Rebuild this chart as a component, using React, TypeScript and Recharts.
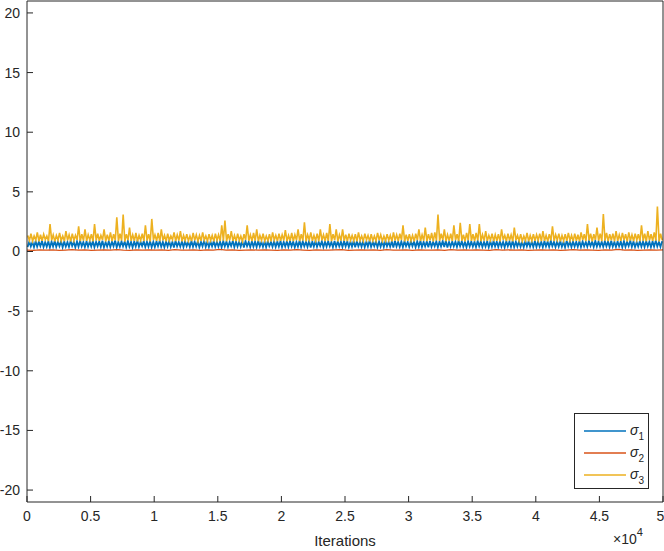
import { LineChart, Line, XAxis, YAxis, Label } from "recharts"

// binned envelope of each trace (250 iterations per bin)
const sigma3High = [
  1.35, 1.5, 1.3, 1.6, 1.4, 1.45, 1.3, 2.3, 1.4, 1.35, 1.55, 1.3, 1.7, 1.4, 1.5, 1.35, 2.1, 1.45, 1.85, 1.4,
  1.45, 2.3, 1.5, 1.35, 1.85, 1.4, 1.6, 1.45, 2.87, 1.5, 3.1, 1.45, 2.0, 1.4, 1.55, 1.35, 1.5, 2.2, 1.45, 2.73,
  1.4, 1.55, 1.85, 1.35, 1.5, 1.3, 1.6, 1.4, 1.7, 1.35, 1.45, 1.3, 1.55, 1.4, 1.35, 1.6, 1.3, 1.45, 1.35, 1.5,
  1.4, 2.2, 2.6, 1.45, 1.7, 1.35, 1.5, 1.3, 1.45, 2.2, 1.4, 1.55, 1.85, 1.35, 1.5, 1.3, 1.45, 1.6, 1.35, 1.5,
  1.4, 1.8, 1.35, 1.55, 1.4, 1.85, 1.45, 2.45, 1.4, 1.6, 1.35, 1.5, 1.85, 1.4, 1.55, 2.3, 1.45, 1.85, 1.4, 1.85,
  1.4, 1.5, 1.35, 1.45, 1.6, 1.3, 1.5, 1.35, 1.45, 1.3, 1.55, 1.4, 1.3, 1.45, 1.35, 1.6, 1.4, 1.5, 2.2, 1.4,
  1.45, 1.35, 1.5, 1.85, 1.4, 2.0, 1.45, 1.55, 1.6, 3.1, 1.5, 1.85, 1.4, 1.5, 2.2, 1.45, 2.4, 1.4, 1.55, 2.3,
  1.45, 1.55, 2.3, 1.4, 1.7, 1.35, 1.5, 1.4, 1.45, 1.85, 1.35, 1.5, 1.4, 2.0, 1.35, 1.45, 1.3, 1.55, 1.35, 1.45,
  1.4, 1.5, 1.7, 1.35, 1.45, 2.1, 1.4, 1.5, 1.35, 1.45, 1.55, 1.35, 1.5, 1.4, 1.6, 1.45, 2.3, 1.5, 1.45, 2.0,
  1.5, 3.15, 1.55, 1.45, 1.5, 1.7, 1.4, 1.55, 1.45, 1.6, 1.4, 1.5, 1.45, 2.2, 1.5, 1.7, 1.45, 1.6, 3.77, 1.5,
]
const sigma3Low = [
  0.92, 0.88, 0.95, 0.86, 0.9, 1.0, 0.87, 0.93, 0.85, 0.96, 0.9, 0.88, 0.94, 0.86, 0.91, 0.98, 0.87, 0.92, 0.89, 0.95,
  0.86, 0.93, 0.9, 0.97, 0.85, 0.91, 0.88, 0.95, 0.87, 0.92, 0.84, 0.96, 0.89, 0.9, 0.86, 0.94, 0.88, 0.92, 0.85, 0.97,
  0.9, 0.87, 0.94, 0.86, 0.92, 0.99, 0.88, 0.91, 0.85, 0.95, 0.89, 0.87, 0.93, 0.86, 0.9, 0.96, 0.88, 0.92, 0.85, 0.94,
  0.88, 0.91, 0.86, 0.95, 0.89, 0.87, 0.93, 0.85, 0.97, 0.9, 0.88, 0.92, 0.86, 0.94, 0.89, 0.91, 0.85, 0.96, 0.88, 0.9,
  0.93, 0.86, 0.9, 0.88, 0.95, 0.87, 0.92, 0.85, 0.98, 0.89, 0.91, 0.86, 0.94, 0.88, 0.9, 0.87, 0.96, 0.85, 0.92, 0.89,
  0.87, 0.94, 0.9, 0.86, 0.92, 0.88, 0.97, 0.85, 0.91, 0.89, 0.95, 0.87, 0.9, 0.93, 0.86, 0.92, 0.88, 0.96, 0.85, 0.9,
  0.91, 0.86, 0.95, 0.88, 0.9, 0.87, 0.93, 0.85, 0.92, 0.89, 0.97, 0.86, 0.91, 0.88, 0.94, 0.87, 0.9, 0.85, 0.96, 0.89,
  0.88, 0.93, 0.86, 0.91, 0.89, 0.95, 0.87, 0.9, 0.85, 0.98, 0.88, 0.92, 0.86, 0.94, 0.9, 0.87, 0.93, 0.85, 0.91, 0.89,
  0.94, 0.87, 0.9, 0.86, 0.92, 0.88, 0.96, 0.85, 0.91, 0.89, 0.93, 0.87, 0.9, 0.86, 0.95, 0.88, 0.92, 0.85, 0.97, 0.9,
  0.87, 0.91, 0.88, 0.94, 0.86, 0.9, 0.89, 0.95, 0.85, 0.92, 0.88, 0.96, 0.87, 0.9, 0.86, 0.93, 0.89, 0.91, 0.85, 0.94,
]
const sigma1High = [
  0.84, 0.8, 0.88, 0.82, 0.9, 0.79, 0.86, 0.83, 0.91, 0.81, 0.87, 0.84, 0.8, 0.89, 0.82, 0.85, 0.92, 0.8, 0.86, 0.83,
  0.88, 0.81, 0.85, 0.9, 0.79, 0.87, 0.83, 0.92, 0.8, 0.86, 0.84, 0.89, 0.81, 0.85, 0.91, 0.8, 0.87, 0.83, 0.88, 0.82,
  0.86, 0.9, 0.8, 0.84, 0.88, 0.82, 0.91, 0.79, 0.85, 0.87, 0.81, 0.89, 0.83, 0.86, 0.8, 0.92, 0.84, 0.82, 0.87, 0.81,
  0.83, 0.88, 0.85, 0.8, 0.9, 0.84, 0.81, 0.87, 0.89, 0.8, 0.86, 0.83, 0.91, 0.82, 0.85, 0.88, 0.79, 0.86, 0.84, 0.9,
  0.81, 0.86, 0.89, 0.83, 0.8, 0.92, 0.85, 0.82, 0.88, 0.84, 0.9, 0.81, 0.86, 0.83, 0.87, 0.8, 0.89, 0.85, 0.82, 0.88,
  0.85, 0.82, 0.9, 0.86, 0.81, 0.88, 0.84, 0.91, 0.8, 0.87, 0.83, 0.85, 0.89, 0.81, 0.86, 0.9, 0.82, 0.84, 0.88, 0.8,
  0.87, 0.83, 0.86, 0.91, 0.82, 0.85, 0.89, 0.8, 0.86, 0.84, 0.88, 0.92, 0.81, 0.85, 0.83, 0.9, 0.86, 0.8, 0.87, 0.84,
  0.82, 0.89, 0.84, 0.8, 0.87, 0.85, 0.9, 0.83, 0.86, 0.81, 0.88, 0.84, 0.91, 0.82, 0.86, 0.8, 0.89, 0.85, 0.83, 0.87,
  0.86, 0.81, 0.88, 0.84, 0.9, 0.82, 0.85, 0.87, 0.8, 0.91, 0.84, 0.86, 0.82, 0.89, 0.85, 0.81, 0.88, 0.83, 0.9, 0.84,
  0.83, 0.87, 0.85, 0.9, 0.81, 0.86, 0.84, 0.88, 0.82, 0.92, 0.85, 0.8, 0.87, 0.84, 0.89, 0.83, 0.86, 0.91, 0.82, 0.85,
]
const sigma1Low = [
  0.38, 0.42, 0.35, 0.4, 0.44, 0.36, 0.39, 0.33, 0.41, 0.37, 0.43, 0.35, 0.4, 0.38, 0.45, 0.34, 0.39, 0.42, 0.36, 0.4,
  0.41, 0.36, 0.43, 0.38, 0.34, 0.4, 0.37, 0.44, 0.35, 0.39, 0.42, 0.36, 0.4, 0.33, 0.41, 0.38, 0.45, 0.37, 0.4, 0.35,
  0.37, 0.43, 0.39, 0.35, 0.41, 0.38, 0.34, 0.42, 0.4, 0.36, 0.44, 0.37, 0.39, 0.41, 0.35, 0.43, 0.38, 0.36, 0.42, 0.39,
  0.4, 0.35, 0.42, 0.38, 0.45, 0.36, 0.41, 0.39, 0.34, 0.43, 0.37, 0.4, 0.36, 0.42, 0.38, 0.35, 0.44, 0.39, 0.37, 0.41,
  0.36, 0.41, 0.38, 0.43, 0.35, 0.4, 0.37, 0.42, 0.39, 0.34, 0.41, 0.38, 0.45, 0.36, 0.4, 0.43, 0.35, 0.39, 0.42, 0.37,
  0.42, 0.37, 0.4, 0.35, 0.43, 0.39, 0.36, 0.41, 0.38, 0.44, 0.35, 0.4, 0.37, 0.42, 0.39, 0.34, 0.41, 0.38, 0.36, 0.43,
  0.38, 0.44, 0.36, 0.4, 0.37, 0.42, 0.35, 0.39, 0.43, 0.36, 0.41, 0.38, 0.34, 0.4, 0.42, 0.37, 0.44, 0.39, 0.35, 0.41,
  0.4, 0.36, 0.43, 0.38, 0.41, 0.35, 0.39, 0.42, 0.37, 0.4, 0.34, 0.43, 0.38, 0.36, 0.41, 0.39, 0.35, 0.42, 0.4, 0.37,
  0.37, 0.41, 0.35, 0.42, 0.38, 0.44, 0.36, 0.4, 0.39, 0.35, 0.43, 0.37, 0.41, 0.38, 0.36, 0.42, 0.39, 0.45, 0.37, 0.4,
  0.41, 0.38, 0.43, 0.36, 0.4, 0.37, 0.42, 0.35, 0.39, 0.44, 0.38, 0.36, 0.41, 0.4, 0.37, 0.43, 0.35, 0.39, 0.42, 0.38,
]
const sigma2 = [
  0.12, 0.1, 0.14, 0.11, 0.13, 0.09, 0.12, 0.15, 0.11, 0.13, 0.1, 0.12, 0.14, 0.11, 0.16, 0.12, 0.1, 0.13, 0.11, 0.14,
  0.11, 0.13, 0.1, 0.15, 0.12, 0.11, 0.14, 0.1, 0.13, 0.12, 0.17, 0.11, 0.13, 0.1, 0.12, 0.14, 0.11, 0.13, 0.12, 0.1,
  0.13, 0.11, 0.15, 0.12, 0.1, 0.14, 0.12, 0.11, 0.13, 0.16, 0.1, 0.12, 0.14, 0.11, 0.13, 0.1, 0.15, 0.12, 0.11, 0.13,
  0.1, 0.14, 0.12, 0.11, 0.13, 0.1, 0.15, 0.12, 0.14, 0.11, 0.13, 0.12, 0.1, 0.16, 0.11, 0.13, 0.12, 0.14, 0.1, 0.12,
  0.14, 0.11, 0.13, 0.1, 0.12, 0.15, 0.11, 0.13, 0.12, 0.1, 0.14, 0.11, 0.18, 0.12, 0.13, 0.1, 0.12, 0.14, 0.11, 0.13,
]

const xTicks = [0, 5000, 10000, 15000, 20000, 25000, 30000, 35000, 40000, 45000, 50000]
const yTicks = [-20, -15, -10, -5, 0, 5, 10, 15, 20]

const BIN = 250
const FONT = '"Liberation Sans", Arial, sans-serif'
const INK = "#262626"
const BLUE = "#0072BD"
const RED = "#D95319"
const YELLOW = "#EDB120"

// zigzag between the envelope edges so the dense trace looks filled
const s3Data = sigma3High.flatMap((hi, i) => [
  { it: i * BIN + 60, v: hi },
  { it: i * BIN + 190, v: sigma3Low[i] },
])
const s1Data = sigma1Low.flatMap((lo, i) => [
  { it: i * BIN + 50, v: lo },
  { it: i * BIN + 180, v: sigma1High[i] },
])
const s2Data = sigma2.map((v, j) => ({ it: (j * 50000) / (sigma2.length - 1), v }))

const legendItems = [
  { sub: "1", color: BLUE },
  { sub: "2", color: RED },
  { sub: "3", color: YELLOW },
]

export default function App() {
  return (
    <div style={{ position: "absolute", left: 0, top: 0, width: 664, height: 551, background: "#fff", fontFamily: FONT }}>
      <LineChart width={664} height={551} margin={{ top: 0, right: 0, bottom: 0, left: 0 }}>
        <XAxis
          dataKey="it"
          type="number"
          domain={[0, 50000]}
          ticks={xTicks}
          tickFormatter={(v) => String(v / 10000)}
          height={49}
          tickSize={-6}
          tickMargin={15}
          stroke={INK}
          tick={{ fill: INK, fontSize: 14, fontFamily: FONT }}
          allowDuplicatedCategory={false}
        >
          <Label value="Iterations" position="insideBottom" offset={5} fill={INK} fontSize={15} fontFamily={FONT} />
        </XAxis>
        <XAxis
          xAxisId="top"
          orientation="top"
          type="number"
          domain={[0, 50000]}
          ticks={xTicks}
          height={1}
          tick={false}
          tickSize={-6}
          stroke={INK}
        />
        <YAxis
          type="number"
          domain={[-21, 21]}
          ticks={yTicks}
          width={27}
          tickSize={-6}
          tickMargin={13}
          stroke={INK}
          tick={{ fill: INK, fontSize: 14, fontFamily: FONT }}
        />
        <YAxis
          yAxisId="right"
          orientation="right"
          type="number"
          domain={[-21, 21]}
          ticks={yTicks}
          width={1}
          tick={false}
          tickSize={-6}
          stroke={INK}
        />
        <Line data={s1Data} dataKey="v" stroke={BLUE} strokeWidth={1.7} dot={false} isAnimationActive={false} />
        <Line data={s2Data} dataKey="v" stroke={RED} strokeWidth={1.3} dot={false} isAnimationActive={false} />
        <Line data={s3Data} dataKey="v" stroke={YELLOW} strokeWidth={1.6} dot={false} isAnimationActive={false} />
      </LineChart>

      <div style={{ position: "absolute", left: 613, top: 532, fontSize: 14, color: INK, lineHeight: "14px" }}>
        ×10<span style={{ fontSize: 11, position: "relative", top: -8 }}>4</span>
      </div>

      <div
        style={{
          position: "absolute",
          left: 574,
          top: 413,
          width: 73,
          height: 74,
          border: `1px solid ${INK}`,
          background: "#fff",
        }}
      >
        {legendItems.map((it, i) => (
          <div key={it.sub} style={{ position: "absolute", left: 8, top: 9 + i * 22, height: 16, width: 64 }}>
            <svg width={44} height={16} style={{ position: "absolute", left: 0, top: 0 }}>
              <line x1={1} y1={8} x2={43} y2={8} stroke={it.color} strokeWidth={1.5} />
            </svg>
            <span style={{ position: "absolute", left: 47, top: -1, fontSize: 14, fontStyle: "italic", color: INK, fontFamily: FONT }}>
              σ<span style={{ fontSize: 10, fontStyle: "normal", fontFamily: FONT, position: "relative", top: 5 }}>{it.sub}</span>
            </span>
          </div>
        ))}
      </div>
    </div>
  )
}
